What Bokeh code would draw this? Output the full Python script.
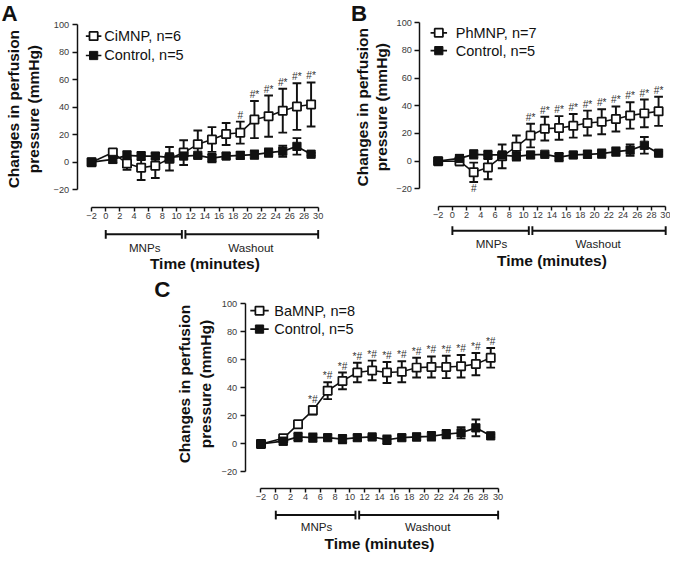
import math
from bokeh.plotting import figure
from bokeh.models import ColumnDataSource, Whisker, TeeHead, FixedTicker, Spacer
from bokeh.layouts import column, row
from bokeh.core.properties import value
from bokeh.embed import file_html
from bokeh.resources import INLINE

# ---------------- data ----------------
time_min = [-2, 1, 3, 5, 7, 9, 11, 13, 15, 17, 19, 21, 23, 25, 27, 29]

control_label = "Control, n=5"
control_mean = [0, 2, 5, 4.5, 4.5, 3.5, 4.5, 5, 3, 4.5, 5, 5.5, 7, 8, 11.5, 5.8]
control_sem = [0, 2.5, 3, 3, 2, 3, 2, 1, 3, 2, 2.5, 3, 3, 4, 6, 1]

ci_label = "CiMNP, n=6"
ci_mean = [0, 7, -1, -4, -2.5, 2.5, 7, 13, 16.5, 20.5, 21.5, 31, 33.5, 37.5, 40.5, 42]
ci_sem = [0, 2, 4.5, 9, 9, 8.5, 9, 10, 9, 8, 8, 13.5, 15, 16, 17, 16]
ci_sig = ["", "", "", "", "", "", "", "", "", "", "#", "#*", "#*", "#*", "#*", "#*"]

ph_label = "PhMNP, n=7"
ph_mean = [0, 0, -8, -4.5, 3.5, 10.5, 18.5, 23.5, 24, 25.5, 27.5, 28.5, 30.5, 33, 34.5, 36]
ph_sem = [0, 3, 7, 8.5, 8.5, 8, 8.5, 8.5, 8.5, 8.5, 9, 9, 9, 9.5, 10, 10.5]
ph_sig = ["", "", "", "", "", "", "#*", "#*", "#*", "#*", "#*", "#*", "#*", "#*", "#*", "#*"]
ph_sig_below = ["", "", "#", "", "", "", "", "", "", "", "", "", "", "", "", ""]

ba_label = "BaMNP, n=8"
ba_mean = [0, 4, 14, 24, 38, 45, 51, 52.5, 51, 51.5, 54.5, 55, 55, 55.5, 57, 61.5]
ba_sem = [0, 2, 2.5, 3, 6, 6, 7, 7, 7.5, 7.5, 7, 7.5, 8, 8, 8, 7]
ba_sig = ["", "", "", "*#", "*#", "*#", "*#", "*#", "*#", "*#", "*#", "*#", "*#", "*#", "*#", "*#"]

x_ticks = list(range(-2, 31, 2))
y_ticks = [-20, 0, 20, 40, 60, 80, 100]
phase_names = ["MNPs", "Washout"]
phase_start = [0, 11]
phase_end = [11, 30]
y_title_lines = ["Changes in perfusion", "pressure (mmHg)"]
x_title = "Time (minutes)"

# ---------------- style / layout ----------------
S = 0.97
FONT = "Liberation Sans"
INK = "#111111"
TICK_TXT = "#3a3a3a"


def minus(v):
    return str(v).replace("-", "\u2212")


def make_panel(letter, name, mean, sem, sig, sig_below, g):
    W = round(g["W"] * S)
    H = round(g["H"] * S)
    x0 = g["x0"] * S
    xs = g["xs"] * S
    y0 = g["y0"] * S
    ys = g["ys"] * S

    def dx(px):
        return (px * S - x0) / xs

    def dy(py):
        return (y0 - py * S) / ys

    p = figure(width=W, height=H,
               x_range=(-x0 / xs, (W - x0) / xs),
               y_range=((y0 - H) / ys, y0 / ys),
               output_backend="svg", toolbar_location=None, tools="",
               min_border=0, min_border_left=0, min_border_right=0,
               min_border_top=0, min_border_bottom=0,
               outline_line_color=None, background_fill_color="white",
               border_fill_color="white")
    p.grid.visible = False

    # y axis
    ya = p.yaxis[0]
    ya.fixed_location = dx(g["yaxis_px"])
    ya.bounds = (y_ticks[0], y_ticks[-1])
    ya.ticker = FixedTicker(ticks=y_ticks)
    ya.major_label_overrides = {t: minus(t) for t in y_ticks if t < 0}
    ya.minor_tick_line_color = None
    ya.major_tick_in = 0
    ya.major_tick_out = round(5 * S)
    ya.major_label_standoff = 3
    ya.axis_line_width = 1.5 * S
    ya.major_tick_line_width = 1.5 * S
    ya.axis_line_color = INK
    ya.major_tick_line_color = INK
    ya.major_label_text_font = FONT
    ya.major_label_text_font_size = f"{9.5 * S:.1f}px"
    ya.major_label_text_color = TICK_TXT

    # x axis (detached)
    xa = p.xaxis[0]
    xa.fixed_location = dy(g["xaxis_py"])
    xa.bounds = (x_ticks[0], x_ticks[-1])
    xa.ticker = FixedTicker(ticks=x_ticks)
    xa.major_label_overrides = {t: minus(t) for t in x_ticks if t < 0}
    xa.minor_tick_line_color = None
    xa.major_tick_in = 0
    xa.major_tick_out = round(4 * S)
    xa.major_label_standoff = 2
    xa.axis_line_width = 1.5 * S
    xa.major_tick_line_width = 1.5 * S
    xa.axis_line_color = INK
    xa.major_tick_line_color = INK
    xa.major_label_text_font = FONT
    xa.major_label_text_font_size = f"{9.5 * S:.1f}px"
    xa.major_label_text_color = TICK_TXT

    # treatment series
    src = ColumnDataSource(dict(t=time_min, m=mean,
                                lo=[m - e for m, e in zip(mean, sem)],
                                hi=[m + e for m, e in zip(mean, sem)],
                                sig=sig, sigb=sig_below))
    p.add_layout(Whisker(source=src, base="t", lower="lo", upper="hi",
                         line_width=2 * S, line_color=INK,
                         upper_head=TeeHead(size=9 * S, line_width=2 * S, line_color=INK),
                         lower_head=TeeHead(size=9 * S, line_width=2 * S, line_color=INK)))
    p.line("t", "m", source=src, line_width=1.6 * S, line_color=INK)
    p.scatter("t", "m", source=src, marker="square", size=8.5 * S,
              fill_color="white", line_color=INK, line_width=1.8 * S)

    # control series
    csrc = ColumnDataSource(dict(t=time_min, m=control_mean,
                                 lo=[m - e for m, e in zip(control_mean, control_sem)],
                                 hi=[m + e for m, e in zip(control_mean, control_sem)]))
    p.add_layout(Whisker(source=csrc, base="t", lower="lo", upper="hi",
                         line_width=2 * S, line_color=INK,
                         upper_head=TeeHead(size=9 * S, line_width=2 * S, line_color=INK),
                         lower_head=TeeHead(size=9 * S, line_width=2 * S, line_color=INK)))
    p.line("t", "m", source=csrc, line_width=1.8 * S, line_color=INK)
    p.scatter("t", "m", source=csrc, marker="square", size=8.5 * S,
              fill_color=INK, line_color=INK, line_width=1 * S)

    # significance marks
    p.text("t", "hi", text="sig", source=src, text_font=value(FONT),
           text_font_size=f"{10.5 * S:.1f}px", text_color="#333333",
           text_align="center", text_baseline="bottom", y_offset=-1)
    p.text("t", "lo", text="sigb", source=src, text_font=value(FONT),
           text_font_size=f"{10.5 * S:.1f}px", text_color="#333333",
           text_align="center", text_baseline="top", y_offset=1)

    # legend (drawn)
    rows_y = [dy(r) for r in g["leg_rows"]]
    gx0, gx1, tx = dx(g["leg_gx0"]), dx(g["leg_gx1"]), dx(g["leg_tx"])
    p.segment(x0=[gx0, gx0], y0=rows_y, x1=[gx1, gx1], y1=rows_y,
              line_width=1.8 * S, line_color=INK)
    p.scatter(x=[(gx0 + gx1) / 2], y=[rows_y[0]], marker="square", size=8.5 * S,
              fill_color="white", line_color=INK, line_width=1.8 * S)
    p.scatter(x=[(gx0 + gx1) / 2], y=[rows_y[1]], marker="square", size=8.5 * S,
              fill_color=INK, line_color=INK)
    p.text(x=[tx, tx], y=rows_y, text=[name, control_label], text_font=value(FONT),
           text_font_size=f"{15 * S:.1f}px", text_color=INK,
           text_align="left", text_baseline="middle")

    # phase bars
    gap = 0.25
    bar_y = dy(g["bar_py"])
    psrc = ColumnDataSource(dict(y=[bar_y] * len(phase_names),
                                 lo=[s + (gap if i > 0 else 0) for i, s in enumerate(phase_start)],
                                 hi=[e - (gap if i < len(phase_end) - 1 else 0) for i, e in enumerate(phase_end)],
                                 mid=[(s + e) / 2 for s, e in zip(phase_start, phase_end)],
                                 name=phase_names))
    p.add_layout(Whisker(source=psrc, base="y", lower="lo", upper="hi", dimension="width",
                         line_width=2 * S, line_color=INK,
                         upper_head=TeeHead(size=9 * S, line_width=2 * S, line_color=INK),
                         lower_head=TeeHead(size=9 * S, line_width=2 * S, line_color=INK)))
    p.text(x="mid", y=dy(g["phase_label_py"]), text="name", source=psrc,
           text_font=value(FONT), text_font_size=f"{12 * S:.1f}px", text_color="#222222",
           text_align="center", text_baseline="middle")

    # x title
    p.text(x=[(x_ticks[0] + x_ticks[-1]) / 2], y=[dy(g["xtitle_py"])], text=[x_title],
           text_font=value(FONT), text_font_style="bold", text_font_size=f"{16 * S:.1f}px",
           text_color=INK, text_align="center", text_baseline="middle")

    # y title (two lines)
    p.text(x=[dx(g["ylab1_px"]), dx(g["ylab2_px"])], y=[dy(g["ylab_py"])] * 2,
           text=y_title_lines, angle=math.pi / 2,
           text_font=value(FONT), text_font_style="bold", text_font_size=f"{16 * S:.1f}px",
           text_color=INK, text_align="center", text_baseline="middle")

    # panel letter
    p.text(x=[dx(g["letter_px"])], y=[dy(g["letter_py"])], text=[letter],
           text_font=value(FONT), text_font_style="bold", text_font_size=f"{23 * S:.1f}px",
           text_color=INK, text_align="left", text_baseline="top")
    return p


geoA = dict(W=345, H=282, x0=108.5, xs=7.3, y0=166.7, ys=1.417, yaxis_px=79, xaxis_py=213,
            bar_py=241, phase_label_py=255, xtitle_py=271, letter_px=1, letter_py=0.5,
            ylab1_px=13, ylab2_px=34, ylab_py=112,
            leg_gx0=88, leg_gx1=104, leg_tx=107, leg_rows=[36.7, 56.7])
geoB = dict(W=345, H=282, x0=120.5, xs=7.33, y0=165.7, ys=1.43, yaxis_px=87, xaxis_py=212.3,
            bar_py=237.3, phase_label_py=251, xtitle_py=268.3, letter_px=16, letter_py=0.5,
            ylab1_px=28, ylab2_px=47, ylab_py=110,
            leg_gx0=98, leg_gx1=115, leg_tx=124, leg_rows=[33.3, 51.7])
geoC = dict(W=370, H=288, x0=133.3, xs=7.64, y0=174.7, ys=1.444, yaxis_px=101.7, xaxis_py=220.3,
            bar_py=248, phase_label_py=260.3, xtitle_py=277, letter_px=8, letter_py=3,
            ylab1_px=39, ylab2_px=60.7, ylab_py=113,
            leg_gx0=107, leg_gx1=126, leg_tx=131.7, leg_rows=[37.3, 56.3])

pA = make_panel("A", ci_label, ci_mean, ci_sem, ci_sig, [""] * len(time_min), geoA)
pB = make_panel("B", ph_label, ph_mean, ph_sem, ph_sig, ph_sig_below, geoB)
pC = make_panel("C", ba_label, ba_mean, ba_sem, ba_sig, [""] * len(time_min), geoC)

layout = column(row(pA, pB), row(Spacer(width=round(150 * S), height=round(288 * S)), pC))

open("out.html", "w").write(file_html(layout, INLINE))
